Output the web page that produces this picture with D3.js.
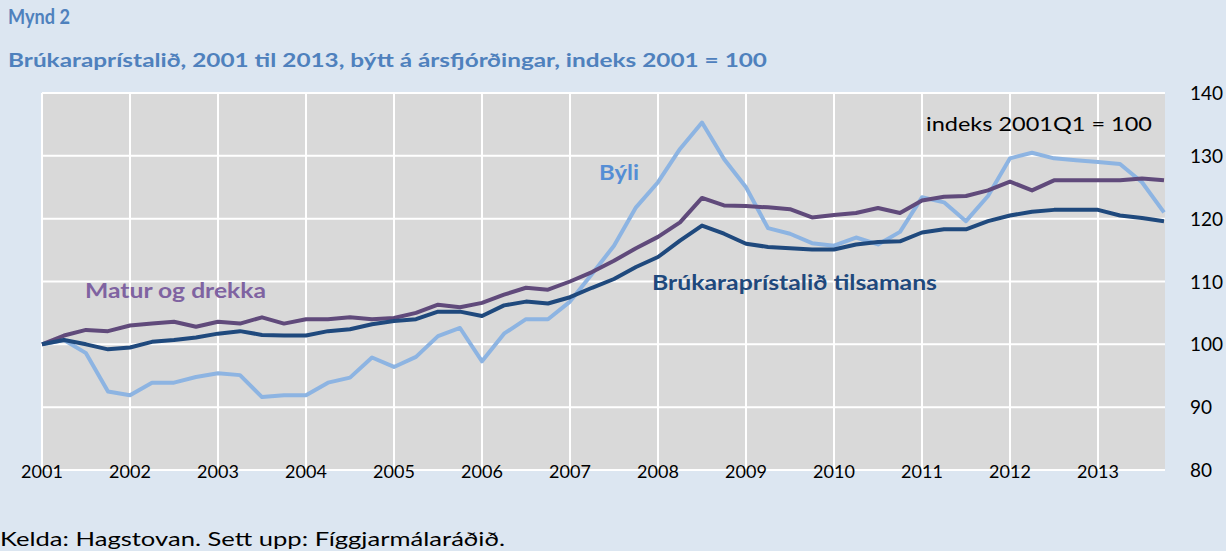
<!DOCTYPE html>
<html lang="fo">
<head>
<meta charset="utf-8">
<title>Mynd 2 - Brúkaraprístalið</title>
<script src="https://d3js.org/d3.v7.min.js"></script>
<style>
  body { margin: 0; background: #dce6f1; }
  svg { display: block; font-family: Lato, "Open Sans", sans-serif; }
</style>
</head>
<body>
<script>
// ársfjórðingar 2001Q1 .. 2013Q4
var years = d3.range(2001, 2014);

var tilsamans = [100, 100.7, 100.0, 99.2, 99.5, 100.4, 100.7, 101.1, 101.7, 102.1, 101.5, 101.4, 101.4, 102.1, 102.4, 103.2,
  103.7, 104.0, 105.2, 105.2, 104.5, 106.2, 106.8, 106.5, 107.5, 109.0, 110.4, 112.3, 113.9, 116.5, 118.9, 117.6,
  116.0, 115.5, 115.3, 115.1, 115.1, 115.9, 116.3, 116.4, 117.8, 118.3, 118.3, 119.6, 120.5, 121.1, 121.4, 121.4,
  121.4, 120.5, 120.1, 119.6];

var matur = [100, 101.4, 102.3, 102.1, 103.0, 103.3, 103.6, 102.8, 103.6, 103.3, 104.3, 103.3, 104.0, 104.0, 104.3, 104.0,
  104.2, 105.0, 106.3, 105.9, 106.6, 107.9, 109.0, 108.7, 110.0, 111.5, 113.3, 115.3, 117.1, 119.4, 123.3, 122.1,
  122.0, 121.8, 121.5, 120.2, 120.6, 120.9, 121.7, 120.9, 122.9, 123.5, 123.6, 124.5, 125.9, 124.5, 126.1, 126.1,
  126.1, 126.1, 126.4, 126.1];

var byli = [100, 100.7, 98.6, 92.5, 91.9, 93.9, 93.9, 94.8, 95.4, 95.1, 91.6, 91.9, 91.9, 93.9, 94.7, 97.9,
  96.4, 98.0, 101.3, 102.6, 97.3, 101.7, 104.0, 104.0, 106.8, 111.2, 115.7, 121.8, 125.8, 131.1, 135.3, 129.5,
  125.0, 118.5, 117.6, 116.1, 115.7, 117.0, 115.9, 117.9, 123.4, 122.6, 119.6, 123.6, 129.6, 130.5, 129.6, 129.3,
  129.0, 128.7, 125.8, 121.0];

var yTicks = [80, 90, 100, 110, 120, 130, 140];

var W = 1226, H = 551;
var pL = 42, pR = 1165, pT = 93, pB = 470;

var svg = d3.select("body").append("svg")
  .attr("width", W)
  .attr("height", H);

var x = d3.scaleLinear().domain([0, 51]).range([pL, pL + 51 * 22]);
var y = d3.scaleLinear().domain([80, 140]).range([pB, pT]);

svg.append("rect")
  .attr("x", pL).attr("y", pT)
  .attr("width", pR - pL).attr("height", pB - pT)
  .attr("fill", "#d9d9d9");

// gridlines
svg.append("g")
  .selectAll("line")
  .data(yTicks)
  .join("line")
  .attr("x1", pL).attr("x2", pR)
  .attr("y1", d => y(d)).attr("y2", d => y(d))
  .attr("stroke", "#fff").attr("stroke-width", 2);

svg.append("g")
  .selectAll("line")
  .data(years)
  .join("line")
  .attr("x1", d => x((d - 2001) * 4)).attr("x2", d => x((d - 2001) * 4))
  .attr("y1", pT).attr("y2", pB)
  .attr("stroke", "#fff").attr("stroke-width", 2);

// axes (text only)
svg.append("g")
  .selectAll("text")
  .data(yTicks)
  .join("text")
  .attr("x", 1190)
  .attr("y", d => y(d) + 7)
  .attr("font-size", 19)
  .attr("fill", "#000")
  .text(d => d);

svg.append("g")
  .selectAll("text")
  .data(years)
  .join("text")
  .attr("x", d => x((d - 2001) * 4))
  .attr("y", 478)
  .attr("text-anchor", "middle")
  .attr("font-size", 18)
  .attr("fill", "#000")
  .text(d => d);

var line = d3.line()
  .x((d, i) => x(i))
  .y(d => y(d));

var series = [
  { values: byli, color: "#8db4e2" },
  { values: matur, color: "#604a7b" },
  { values: tilsamans, color: "#1f497d" }
];

svg.append("g")
  .selectAll("path")
  .data(series)
  .join("path")
  .attr("d", d => line(d.values))
  .attr("fill", "none")
  .attr("stroke", d => d.color)
  .attr("stroke-width", 4)
  .attr("stroke-linejoin", "round");

// series labels
svg.append("text").attr("x", 85).attr("y", 298)
  .attr("font-size", 20).attr("font-weight", "bold").attr("fill", "#7f63a1")
  .attr("textLength", 181).attr("lengthAdjust", "spacingAndGlyphs")
  .text("Matur og drekka");
svg.append("text").attr("x", 599).attr("y", 180)
  .attr("font-size", 20).attr("font-weight", "bold").attr("fill", "#558ed5")
  .attr("textLength", 40).attr("lengthAdjust", "spacingAndGlyphs")
  .text("Býli");
svg.append("text").attr("x", 652).attr("y", 290)
  .attr("font-size", 20).attr("font-weight", "bold").attr("fill", "#1f497d")
  .attr("textLength", 285).attr("lengthAdjust", "spacingAndGlyphs")
  .text("Brúkaraprístalið  tilsamans");

svg.append("text").attr("x", 926).attr("y", 131)
  .attr("font-size", 20).attr("fill", "#000")
  .attr("textLength", 226).attr("lengthAdjust", "spacingAndGlyphs")
  .text("indeks 2001Q1 = 100");

// titles
svg.append("text").attr("x", 8).attr("y", 24)
  .attr("font-size", 20).attr("font-weight", "bold").attr("fill", "#4f81bd")
  .attr("textLength", 62).attr("lengthAdjust", "spacingAndGlyphs")
  .text("Mynd 2");
svg.append("text").attr("x", 8).attr("y", 67)
  .attr("font-size", 19).attr("font-weight", "bold").attr("fill", "#4f81bd")
  .attr("textLength", 759).attr("lengthAdjust", "spacingAndGlyphs")
  .text("Brúkaraprístalið, 2001 til 2013, býtt á ársfjórðingar, indeks 2001 = 100");

svg.append("text").attr("x", 0).attr("y", 546)
  .attr("font-size", 19).attr("fill", "#000")
  .attr("textLength", 505).attr("lengthAdjust", "spacingAndGlyphs")
  .text("Kelda: Hagstovan. Sett upp: Fíggjarmálaráðið.");
</script>
</body>
</html>
